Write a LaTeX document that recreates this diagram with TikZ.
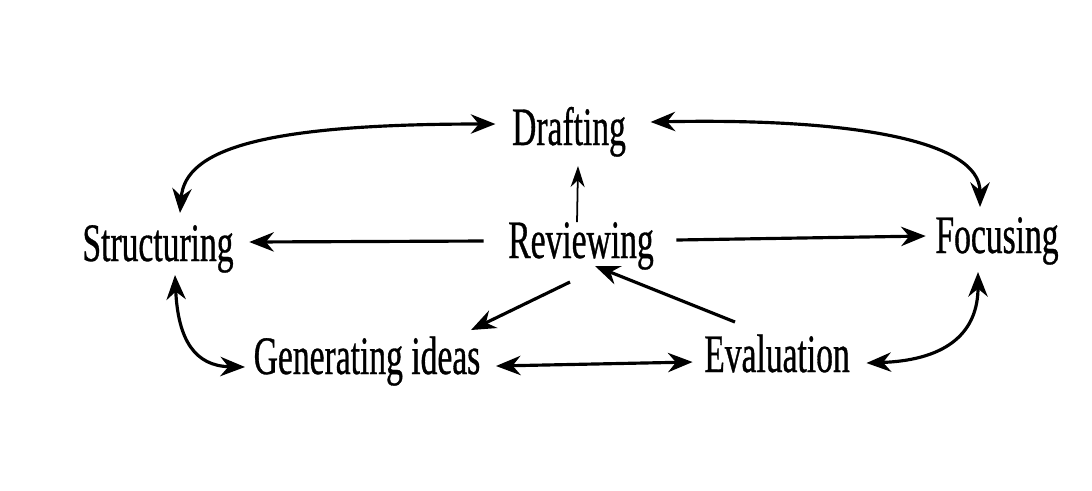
\documentclass[tikz,border=0pt]{standalone}
\usepackage{fontspec}
\setmainfont{Liberation Serif}[FakeStretch=0.62,FakeBold=0.6]
\usetikzlibrary{arrows.meta,calc}
\begin{document}
\begin{tikzpicture}[x=0.01cm,y=-0.01cm,
  lbl/.style={font=\fontsize{15.4}{18}\selectfont, inner sep=0pt, anchor=base},
  tipA/.tip={Stealth[length=7pt,width=5.5pt]},
  arr/.style={line width=0.9pt, -tipA},
  darr/.style={line width=0.9pt, tipA-tipA},
  thinarr/.style={line width=0.5pt, -{Stealth[length=6pt,width=4pt]}}]
\fill[white] (0,0) rectangle (1092,490);
\useasboundingbox (0,0) rectangle (1092,490);
\node[lbl] (D) at (569,145) {Drafting};
\node[lbl] (S) at (158,261) {Structuring};
\node[lbl] (R) at (581,258) {Reviewing};
\node[lbl] (F) at (997,253) {Focusing};
\node[lbl] (G) at (367,374) {Generating ideas};
\node[lbl] (E) at (777,372) {Evaluation};
% curved double arrows
\draw[darr] ($(S.base)+(22,-48)$) .. controls (185,150) and (260,124) .. ($(D.base west)+(-16,-21)$);
\draw[darr] ($(D.base east)+(24,-23)$) .. controls (850,118) and (980,140) .. ($(F.base)+(-17,-46)$);
\draw[darr] ($(S.base)+(17,14)$) .. controls (178,340) and (195,366) .. ($(G.base west)+(-8,-7)$);
\draw[darr] ($(E.base east)+(16,-9)$) .. controls (950,360) and (978,330) .. ($(F.base)+(-19,19)$);
% straight arrows
\draw[thinarr] ($(R.base)+(-4,-36)$) -- ($(D.base)+(9,21)$);
\draw[arr] ($(R.base west)+(-24,-17)$) -- ($(S.base east)+(15,-19)$);
\draw[arr] ($(R.base east)+(22,-18)$) -- ($(F.base west)+(-9,-17)$);
\draw[arr] ($(R.base)+(-11,24)$) -- ($(G.base)+(104,-44)$);
\draw[arr] ($(E.base)+(-42,-50)$) -- ($(R.base)+(14,8)$);
\draw[darr] ($(G.base east)+(15,-8)$) -- ($(E.base west)+(-11,-10)$);
\end{tikzpicture}
\end{document}
